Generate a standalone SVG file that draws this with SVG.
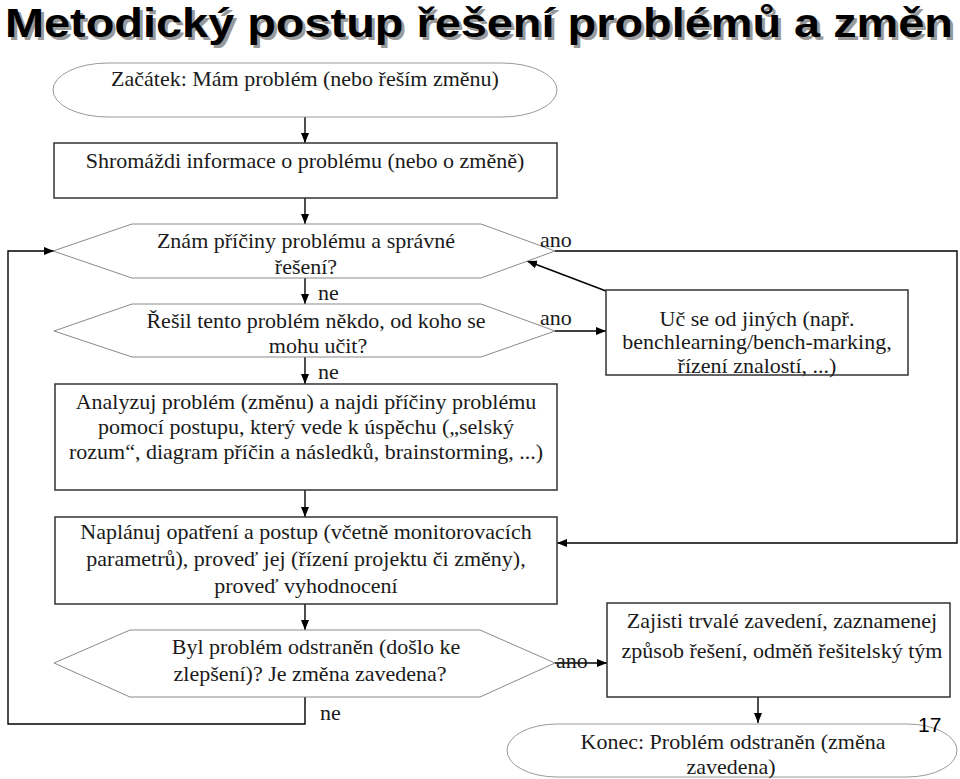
<svg xmlns="http://www.w3.org/2000/svg" width="960" height="779" viewBox="0 0 960 779">
<defs>
<marker id="ah" markerUnits="userSpaceOnUse" markerWidth="10" markerHeight="10" viewBox="0 0 10 10" refX="10" refY="5" orient="auto">
<path d="M0,1 L10,5 L0,9 Z" fill="#000"/>
</marker>
</defs>
<style>
.t{font-family:"Liberation Serif","Times New Roman",serif;font-size:22px;fill:#1a1a1a;text-anchor:middle}
.l{font-family:"Liberation Serif","Times New Roman",serif;font-size:22px;fill:#1a1a1a}
.box{fill:#fff;stroke:#333;stroke-width:1.5}
.hex{fill:#fff;stroke:#8a8a8a;stroke-width:1}
.term{fill:#fff;stroke:#9a9a9a;stroke-width:1}
.c{fill:none;stroke:#000;stroke-width:1.4}
.title{font-family:"Liberation Sans",Arial,sans-serif;font-weight:bold;font-size:41px}
</style>
<rect width="960" height="779" fill="#fff"/>
<g id="title">
<text x="8" y="40" class="title" fill="#9a9a9a" textLength="948" lengthAdjust="spacingAndGlyphs">Metodický postup řešení problémů a změn</text>
<text x="5" y="37" class="title" fill="#000" textLength="948" lengthAdjust="spacingAndGlyphs">Metodický postup řešení problémů a změn</text>
</g>
<g id="connectors">
<path class="c" d="M305,117 V143" marker-end="url(#ah)"/>
<path class="c" d="M305,198 V224" marker-end="url(#ah)"/>
<path class="c" d="M305,278 V304" marker-end="url(#ah)"/>
<path class="c" d="M305,357 V384" marker-end="url(#ah)"/>
<path class="c" d="M305,490 V517" marker-end="url(#ah)"/>
<path class="c" d="M305,604 V630" marker-end="url(#ah)"/>
<path class="c" d="M305,697 V724 H8 V251 H54" marker-end="url(#ah)"/>
<path class="c" d="M555,251 H957 V543 H557" marker-end="url(#ah)"/>
<path class="c" d="M555,331 H606" marker-end="url(#ah)"/>
<path class="c" d="M606,291 L527,261" marker-end="url(#ah)"/>
<path class="c" d="M555,663 H607" marker-end="url(#ah)"/>
<path class="c" d="M758,697 V723" marker-end="url(#ah)"/>
</g>
<g id="start">
<rect class="term" x="53" y="63" width="504" height="54" rx="55" ry="27"/>
<text class="t" x="305" y="86">Začátek: Mám problém (nebo řeším změnu)</text>
</g>
<g id="gather">
<rect class="box" x="54" y="143" width="503" height="55"/>
<text class="t" x="305" y="168">Shromáždi informace o problému (nebo o změně)</text>
</g>
<g id="decision1">
<polygon class="hex" points="53,251 132,224 481,224 555,251 481,278 132,278"/>
<text class="t" x="306" y="248">Znám příčiny problému a správné</text>
<text class="t" x="306" y="274">řešení?</text>
</g>
<g id="decision2">
<polygon class="hex" points="54,331 132,304 481,304 555,331 481,357 132,357"/>
<text class="t" x="316" y="328">Řešil tento problém někdo, od koho se</text>
<text class="t" x="318" y="353">mohu učit?</text>
</g>
<g id="analyze">
<rect class="box" x="55" y="384" width="502" height="106"/>
<text class="t" x="306" y="409">Analyzuj problém (změnu) a najdi příčiny problému</text>
<text class="t" x="306" y="434">pomocí postupu, který vede k úspěchu („selský</text>
<text class="t" x="306" y="459">rozum“, diagram příčin a následků, brainstorming, ...)</text>
</g>
<g id="plan">
<rect class="box" x="55" y="517" width="502" height="87"/>
<text class="t" x="306" y="539">Naplánuj opatření a postup (včetně monitorovacích</text>
<text class="t" x="306" y="566">parametrů),  proveď jej (řízení projektu či změny),</text>
<text class="t" x="306" y="593">proveď vyhodnocení</text>
</g>
<g id="decision3">
<polygon class="hex" points="54,663 130,630 480,630 555,663 480,697 130,697"/>
<text class="t" x="316" y="654">Byl problém odstraněn (došlo ke</text>
<text class="t" x="310" y="681">zlepšení)? Je změna zavedena?</text>
</g>
<g id="learn">
<rect class="box" x="606" y="290" width="302" height="85"/>
<text class="t" x="757" y="326">Uč se od jiných (např.</text>
<text class="t" x="757" y="349">benchlearning/bench-marking,</text>
<text class="t" x="757" y="373">řízení znalostí, ...)</text>
</g>
<g id="secure">
<rect class="box" x="607" y="603" width="343" height="94"/>
<text class="t" x="782" y="628">Zajisti trvalé zavedení, zaznamenej</text>
<text class="t" x="782" y="658">způsob řešení, odměň řešitelský tým</text>
</g>
<g id="end">
<rect class="term" x="507" y="724" width="450" height="53" rx="50" ry="26.5"/>
<text class="t" x="733" y="749">Konec: Problém odstraněn (změna</text>
<text class="t" x="731" y="774">zavedena)</text>
</g>
<g id="labels">
<text class="l" x="540" y="247">ano</text>
<text class="l" x="540" y="325">ano</text>
<text class="l" x="556" y="668">ano</text>
<text class="l" x="318" y="300">ne</text>
<text class="l" x="318" y="379">ne</text>
<text class="l" x="320" y="720">ne</text>
</g>
<text x="918" y="732" font-family="Liberation Sans, Arial, sans-serif" font-size="21" fill="#000">17</text>
</svg>
